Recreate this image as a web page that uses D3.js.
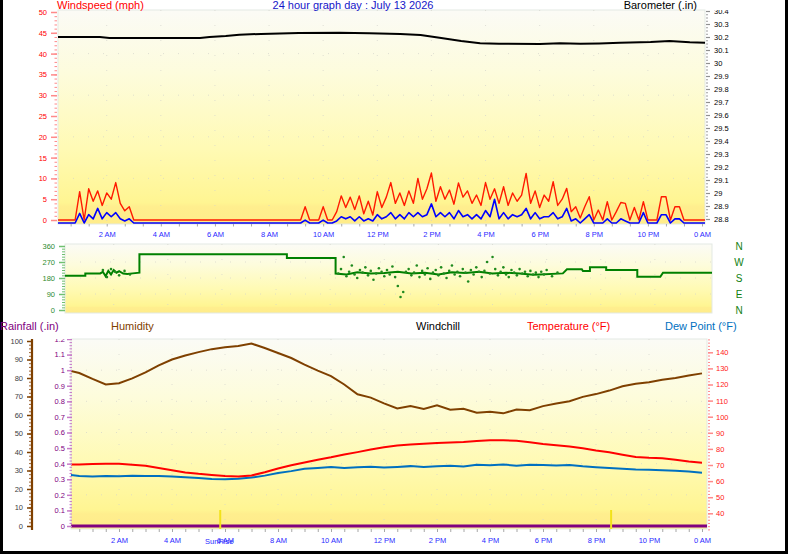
<!DOCTYPE html>
<html lang="en">
<head>
<meta charset="utf-8">
<title>24 hour graph day : July 13 2026</title>
<script src="https://cdn.jsdelivr.net/npm/d3@7"></script>
<style>
body { margin: 0; background: #fff; }
svg { display: block; }
</style>
</head>
<body>
<script>
// ---------------- data ----------------
// wind, one value every 10 minutes from 0:00 to 24:00 (mph)
var windGust = [
  0,0,0,0,0,0, 6.8,0, 7.5,4.5,7,3.5,6.5,5,9,4,2.2,3.2,
  0,0,0,0,0,0,0,0,0,0,0,0,0,0,0,0,0,0,0,0,0,0,0,0,0,0,0,0,0,0,0,0,0,0,0,0,0,0,
  3.2,0,0,0,3.2,0,0,
  2,5.8,3,5.5,2.5,5.8,1.5,4.5,1.2,6.8,3,5.5,9,4,6.5,3.5,7,4,10,5,7.5,11.3,4.5,8,
  5,7.2,3.8,8.9,5.5,7,4,6,3.5,9,5,7.5,4,8,3.5,6.5,4.5,6,11.2,4,7,3,6,
  4.5,9.2,3.5,5,7.6,2,3.2,0.5,3.2,5.6,0,2.4,0,4.4,0,2,4.2,4,0,3,0,4.4,0,0,0,5.6,5.6,0,3.2,3.2,
  0,0,0,0,0,0,0
];
var windAvg = [
  0,0,0,0,0,0, 2.3,0, 2,1,3.5,1,2.5,1.5,2.5,1,0.5,1,
  0,0,0,0,0,0,0,0,0,0,0,0,0,0,0,0,0,0,0,0,0,0,0,0,0,0,0,0,0,0,0,0,0,0,0,0,0,0,
  0.7,0,0,0,0.7,0,0,
  0.5,1.5,1,1.5,0.5,1.5,0.5,1,0.5,2,1,1.5,2.5,1,2,1,2.5,1.5,2.5,1.5,2,4.6,1.5,2.5,
  1.5,2.5,1,3,1.5,2,1,2,1,3,1.5,5.7,1,2.5,1,2,1.5,2,3.5,1,2.5,1,1.5,
  1.5,2.5,1,1.5,3.5,0.5,1,0,1,2,0,0,0,1,0,0,1,0.5,0,0,0,2.5,0,0,0,2,2,0,1,1,
  0,0,0,0,0,0,0
];

// barometer (inHg)
var baroHours  = [0, 1.75, 2.1, 5.45, 5.8, 6.4, 6.9, 7.7, 9.1, 10.6, 11.7, 12.85, 13.6, 14.3, 15.1, 15.8, 16.5, 18.0, 18.75, 19.5, 20.2, 20.97, 22.1, 22.8, 23.55, 24.2];
var baroValues = [30.20, 30.20, 30.193, 30.193, 30.20, 30.208, 30.218, 30.224, 30.23, 30.232, 30.228, 30.224, 30.215, 30.195, 30.17, 30.152, 30.148, 30.146, 30.152, 30.148, 30.15, 30.155, 30.162, 30.17, 30.16, 30.156];

// wind direction line (degrees)
var dirHours  = [0, 0.95, 0.95, 1.5, 1.6, 1.7, 1.8, 1.9, 2.0, 2.1, 2.2, 2.35, 2.5, 2.7, 2.95, 2.95, 8.4, 8.4, 10.2, 10.2, 10.6, 11.0, 11.5, 12, 12.5, 13, 13.5, 14, 14.5, 15, 15.5, 16, 16.5, 17, 17.5, 17.75, 18.6, 18.75, 19.3, 19.34, 19.6, 19.6, 20.2, 20.2, 21.35, 21.35, 22.2, 22.3, 24.2];
var dirValues = [193, 193, 206, 206, 215, 190, 220, 200, 225, 210, 218, 205, 202, 206, 210, 313, 313, 292, 292, 205, 200, 212, 205, 208, 215, 205, 210, 200, 212, 208, 215, 205, 210, 205, 198, 200, 206, 229, 229, 219, 219, 240, 240, 225, 225, 187, 187, 210, 210];

// scattered wind direction samples
var dirDotHours  = [1.6, 1.75, 1.9, 2.05, 2.2, 2.4, 2.6,
  10.3, 10.4, 10.5, 10.6, 10.7, 10.8, 10.9, 11.0, 11.1, 11.2, 11.3, 11.4, 11.5, 11.6, 11.7, 11.8, 11.9, 12.0, 12.1, 12.2, 12.3, 12.4, 12.5, 12.6, 12.7, 12.8, 12.9,
  13.0, 13.1, 13.2, 13.3, 13.4, 13.5, 13.6, 13.7, 13.8, 13.9, 14.0, 14.1, 14.2, 14.3, 14.4, 14.5, 14.6, 14.7, 14.8, 14.9, 15.0, 15.1, 15.2, 15.3, 15.4, 15.5,
  15.6, 15.7, 15.8, 15.9, 16.0, 16.1, 16.2, 16.3, 16.4, 16.5, 16.6, 16.7, 16.8, 16.9, 17.0, 17.1, 17.2, 17.3, 17.4, 17.5, 17.6, 17.7, 17.8, 17.9, 18.0, 18.2, 18.4];
var dirDotValues = [225, 185, 230, 215, 195, 220, 200,
  205, 230, 298, 190, 215, 250, 200, 180, 225, 210, 240, 195, 220, 170, 205, 235, 215, 190, 225, 200, 245, 185, 135, 73, 101, 215, 230,
  195, 210, 250, 185, 220, 200, 235, 175, 210, 225, 195, 240, 205, 180, 220, 250, 200, 215, 190, 230, 210, 160, 225, 200, 240, 215,
  185, 220, 270, 205, 298, 230, 195, 215, 240, 200, 185, 225, 210, 195, 230, 205, 215, 190, 220, 200, 210, 185, 215, 200, 225, 190, 210];

// half-hourly values from 0:00 to 24:00
var humidity = [84.5, 82.7, 79.5, 76.5, 77.2, 79.8, 83, 86.8, 90, 92.2, 94, 95.6, 96.6, 97.3, 98.6, 96.2, 93.5, 90.8, 87.2, 84, 81, 76.5, 71.2, 69.4, 66.3,
  63.5, 64.8, 63.2, 65.2, 62.8, 63.4, 61.2, 61.8, 60.9, 63, 62.6, 64.8, 66.2, 67.4, 69.8, 71.3, 73.2, 75.5, 76.9, 77.7, 79, 80, 81.3, 82.5];
var temperature = [70.2, 70.3, 70.6, 70.8, 70.8, 70.2, 69.6, 68.2, 66.8, 65.4, 64.5, 63.8, 63.1, 62.8, 63.5, 65.5, 67.8, 69.8, 71.5, 73.3, 74.8, 76.5, 78, 79.6, 81,
  82.1, 82.8, 83.2, 83.6, 84, 84.3, 84.9, 85.4, 85.3, 85, 84.2, 83.1, 82.3, 81.5, 80.4, 79, 77.9, 76.4, 75, 74.5, 74.2, 73.2, 72.2, 71.4];
var dewPoint = [64.2, 63.2, 62.8, 63.2, 63, 63.3, 63.1, 63.2, 62.9, 62.4, 62, 61.3, 61.1, 61.5, 62.2, 63.4, 65, 66.2, 67.6, 68.2, 68.8, 68.2, 68.6, 68.9, 68.4,
  68.8, 69.3, 68.7, 69.2, 69.6, 69.1, 70.2, 69.8, 70.3, 69.6, 70.1, 70, 69.7, 70, 69.2, 68.6, 68.1, 67.6, 67.2, 67, 66.8, 66.5, 65.9, 65.2];
var rainfall = [0, 0];
var rainHours = [0, 24.2];

var sunHours = [5.82, 20.57];
var sunLabels = ["SunRise", ""];

var windTicks = [0, 5, 10, 15, 20, 25, 30, 35, 40, 45, 50];
var baroTicks = [28.8, 28.9, 29, 29.1, 29.2, 29.3, 29.4, 29.5, 29.6, 29.7, 29.8, 29.9, 30, 30.1, 30.2, 30.3, 30.4];
var dirTicks = [0, 90, 180, 270, 360];
var compass = ["N", "W", "S", "E", "N"];
var humTicks = [0, 10, 20, 30, 40, 50, 60, 70, 80, 90, 100];
var rainTicks = [0, 0.1, 0.2, 0.3, 0.4, 0.5, 0.6, 0.7, 0.8, 0.9, 1, 1.1, 1.2];
var tempTicks = [40, 50, 60, 70, 80, 90, 100, 110, 120, 130, 140];

var FONT = '"Liberation Sans", Arial, sans-serif';

// ---------------- canvas ----------------
var svg = d3.select("body").append("svg").attr("width", 798).attr("height", 554)
  .attr("font-family", FONT);
var defs = svg.append("defs");

var grad = defs.append("linearGradient").attr("id", "bg")
  .attr("x1", 0).attr("y1", 0).attr("x2", 0).attr("y2", 1);
[[0, "#fbfbf6"], [0.3, "#fdfcdc"], [0.65, "#fffab4"], [0.9, "#fff592"], [0.92, "#ffee8e"], [1, "#ffec8a"]]
  .forEach(function(s) { grad.append("stop").attr("offset", s[0]).attr("stop-color", s[1]); });

function clip(id, x, y, w, h) {
  defs.append("clipPath").attr("id", id).append("rect")
    .attr("x", x).attr("y", y).attr("width", w).attr("height", h);
  return "url(#" + id + ")";
}

function hourLabel(h) {
  var hh = Math.round(h) % 24;
  var d = hh % 12;
  if (hh === 12) d = 12;
  return d + " " + (hh < 12 ? "AM" : "PM");
}
function isEven(v) { return Math.abs(v / 2 - Math.round(v / 2)) < 1e-6; }

function styleAxis(g, tickColor, textColor, size, width) {
  g.attr("font-family", FONT).attr("font-size", size);
  g.select(".domain").remove();
  g.selectAll(".tick line").attr("stroke", tickColor).attr("stroke-width", width);
  g.selectAll(".tick text").attr("fill", textColor);
}

function panelBg(x, y, w, h) {
  svg.append("rect").attr("x", x).attr("y", y).attr("width", w).attr("height", h)
    .attr("fill", "url(#bg)").attr("stroke", "#e3e9e3").attr("stroke-width", 1);
}

function grid(g, xs, ys, xScale, yScale, x0, x1, y0, y1) {
  g.selectAll(".gx").data(xs).enter().append("line")
    .attr("x1", function(d) { return xScale(d); }).attr("x2", function(d) { return xScale(d); })
    .attr("y1", y0).attr("y2", y1)
    .attr("stroke", "#d4d4cc").attr("stroke-dasharray", "1,14").attr("opacity", 0.7);
  g.selectAll(".gy").data(ys).enter().append("line")
    .attr("x1", x0).attr("x2", x1)
    .attr("y1", function(d) { return yScale(d); }).attr("y2", function(d) { return yScale(d); })
    .attr("stroke", "#d4d4cc").attr("stroke-dasharray", "1,14").attr("opacity", 0.7);
}

var gridHours = [2, 4, 6, 8, 10, 12, 14, 16, 18, 20, 22];

// frame
svg.append("rect").attr("x", 0).attr("y", 0).attr("width", 3).attr("height", 554).attr("fill", "#000");
svg.append("rect").attr("x", 785).attr("y", 0).attr("width", 3).attr("height", 554).attr("fill", "#000");
svg.append("rect").attr("x", 0).attr("y", 551).attr("width", 788).attr("height", 3).attr("fill", "#000");

//////////////////////////////////////////////////////////////
// TOP PANEL : wind + barometer
//////////////////////////////////////////////////////////////
var xTop = d3.scaleLinear().domain([0, 24]).range([52.6, 702]);
var yWind = d3.scaleLinear().domain([0, 50]).range([220, 12]);
var yWindAvg = d3.scaleLinear().domain([0, 50]).range([223, 15]);
var yBaro = d3.scaleLinear().domain([28.8, 30.4]).range([219, 11]);

panelBg(58, 10, 647, 214);
var topPlot = svg.append("g").attr("clip-path", clip("clipTop", 58, 10, 647, 214));
grid(topPlot, gridHours, [10, 20, 30, 40], xTop, yWind, 58, 705, 10, 224);

var windTimes = windGust.map(function(v, i) { return i / 6; });
var gustLine = d3.line().x(function(d, i) { return xTop(windTimes[i]); }).y(function(d) { return yWind(d); });
var avgLine = d3.line().x(function(d, i) { return xTop(windTimes[i]); }).y(function(d) { return yWindAvg(d); });

topPlot.append("path").datum(windGust).attr("d", gustLine)
  .attr("fill", "none").attr("stroke", "#ff1a00").attr("stroke-width", 1.4).attr("stroke-linejoin", "round");
topPlot.append("path").datum(windAvg).attr("d", avgLine)
  .attr("fill", "none").attr("stroke", "#0000ff").attr("stroke-width", 1.6).attr("stroke-linejoin", "round");

var baroLine = d3.line().x(function(d, i) { return xTop(baroHours[i]); }).y(function(d) { return yBaro(d); });
topPlot.append("path").datum(baroValues).attr("d", baroLine)
  .attr("fill", "none").attr("stroke", "#000").attr("stroke-width", 2);

var topAxes = svg.append("g").attr("clip-path", clip("clipTopAx", 0, 10, 798, 240));

var wMinor = topAxes.append("g").attr("transform", "translate(57,0)")
  .call(d3.axisLeft(yWind).tickValues(d3.range(0, 51, 1)).tickSize(2.5).tickFormat(""));
styleAxis(wMinor, "#ff8a8a", "#ff0000", 7, 1);
var wMajor = topAxes.append("g").attr("transform", "translate(57,0)")
  .call(d3.axisLeft(yWind).tickValues(windTicks).tickSize(6).tickPadding(4).tickFormat(d3.format("d")));
styleAxis(wMajor, "#ff8a8a", "#ff0000", 7.5, 1.5);

var bMinor = topAxes.append("g").attr("transform", "translate(706,0)")
  .call(d3.axisRight(yBaro).tickValues(d3.range(0, 65).map(function(i) { return 28.8 + i * 0.025; })).tickSize(2).tickFormat(""));
styleAxis(bMinor, "#a0a0a0", "#000", 7, 1);
var bMajor = topAxes.append("g").attr("transform", "translate(706,0)")
  .call(d3.axisRight(yBaro).tickValues(baroTicks).tickSize(4).tickPadding(4)
    .tickFormat(function(v) { return String(+v.toFixed(1)); }));
styleAxis(bMajor, "#909090", "#000", 7.5, 1.2);

var xTopAxis = topAxes.append("g").attr("transform", "translate(0,224)")
  .call(d3.axisBottom(xTop).tickValues(d3.range(1, 37).map(function(i) { return i * 2 / 3; }))
    .tickSize(2.5).tickPadding(5.5)
    .tickFormat(function(v) { return isEven(v) ? hourLabel(v) : ""; }));
styleAxis(xTopAxis, "#a8a8a8", "#2b2bff", 7.5, 1);

svg.append("text").attr("x", 57).attr("y", 9).attr("fill", "#ff0000").attr("font-size", 11).text("Windspeed (mph)");
svg.append("text").attr("x", 353).attr("y", 9).attr("text-anchor", "middle").attr("fill", "#1515c8").attr("font-size", 11)
  .text("24 hour graph day : July 13 2026");
svg.append("text").attr("x", 697).attr("y", 9).attr("text-anchor", "end").attr("fill", "#000").attr("font-size", 11)
  .text("Barometer (.in)");

//////////////////////////////////////////////////////////////
// MIDDLE PANEL : wind direction
//////////////////////////////////////////////////////////////
var xMid = d3.scaleLinear().domain([0, 24]).range([59.6, 709]);
var yDir = d3.scaleLinear().domain([0, 360]).range([310, 246]);

panelBg(65, 244, 647, 69);
var midPlot = svg.append("g").attr("clip-path", clip("clipMid", 65, 244, 647, 69));
grid(midPlot, gridHours, [90, 180, 270], xMid, yDir, 65, 712, 244, 313);

var dirLine = d3.line().x(function(d, i) { return xMid(dirHours[i]); }).y(function(d) { return yDir(d); });
midPlot.append("path").datum(dirValues).attr("d", dirLine)
  .attr("fill", "none").attr("stroke", "#008000").attr("stroke-width", 2);
midPlot.selectAll(".dot").data(dirDotValues).enter().append("circle")
  .attr("cx", function(d, i) { return xMid(dirDotHours[i]); })
  .attr("cy", function(d) { return yDir(d); })
  .attr("r", 1.3).attr("fill", "#1f8a1f");

var midAxes = svg.append("g").attr("clip-path", clip("clipMidAx", 0, 244, 798, 80));
var dMinor = midAxes.append("g").attr("transform", "translate(65,0)")
  .call(d3.axisLeft(yDir).tickValues(d3.range(0, 361, 15)).tickSize(3).tickFormat(""));
styleAxis(dMinor, "#70c070", "#2e8b2e", 7, 1);
var dMajor = midAxes.append("g").attr("transform", "translate(65,0)")
  .call(d3.axisLeft(yDir).tickValues(dirTicks).tickSize(6).tickPadding(4).tickFormat(d3.format("d")));
styleAxis(dMajor, "#70c070", "#2e8b2e", 7.5, 1.5);

svg.selectAll(".compass").data(compass).enter().append("text")
  .attr("x", 739).attr("y", function(d, i) { return yDir(dirTicks[4 - i]) + 4; })
  .attr("text-anchor", "middle").attr("fill", "#108010").attr("font-size", 10)
  .text(function(d) { return d; });

//////////////////////////////////////////////////////////////
// BOTTOM PANEL : temperature, dew point, humidity, rain
//////////////////////////////////////////////////////////////
var xBot = d3.scaleLinear().domain([0, 24]).range([66, 702]);
var yRain = d3.scaleLinear().domain([0, 1.2]).range([526, 339]);
var yHum = d3.scaleLinear().domain([0, 100]).range([526, 341]);
var yTemp = d3.scaleLinear().domain([30, 150]).range([529.4, 336.2]);

panelBg(71, 339, 636, 190);
var botPlot = svg.append("g").attr("clip-path", clip("clipBot", 71, 339, 636, 190));
grid(botPlot, gridHours, [0.2, 0.4, 0.6, 0.8, 1.0], xBot, yRain, 71, 707, 339, 529);

var halfHours = humidity.map(function(v, i) { return i / 2; });
function seriesLine(scale) {
  return d3.line().x(function(d, i) { return xBot(halfHours[i]); }).y(function(d) { return scale(d); });
}
botPlot.append("path").datum(humidity).attr("d", seriesLine(yHum))
  .attr("fill", "none").attr("stroke", "#7f4000").attr("stroke-width", 2);
botPlot.append("path").datum(dewPoint).attr("d", seriesLine(yTemp))
  .attr("fill", "none").attr("stroke", "#0070c0").attr("stroke-width", 2);
botPlot.append("path").datum(temperature).attr("d", seriesLine(yTemp))
  .attr("fill", "none").attr("stroke", "#ff0000").attr("stroke-width", 2);

var rainLine = d3.line().x(function(d, i) { return xBot(rainHours[i]); }).y(function(d) { return yRain(d); });
botPlot.append("path").datum(rainfall).attr("d", rainLine)
  .attr("fill", "none").attr("stroke", "#800080").attr("stroke-width", 3);

botPlot.selectAll(".sun").data(sunHours).enter().append("line")
  .attr("x1", function(d) { return xBot(d); }).attr("x2", function(d) { return xBot(d); })
  .attr("y1", 510).attr("y2", 529).attr("stroke", "#f2e21a").attr("stroke-width", 2);

var botAxes = svg.append("g").attr("clip-path", clip("clipBotAx", 0, 339, 798, 212));

// humidity axis
botAxes.append("line").attr("x1", 32).attr("x2", 32).attr("y1", 339).attr("y2", 530)
  .attr("stroke", "#7f4000").attr("stroke-width", 2.2);
var hMinor = botAxes.append("g").attr("transform", "translate(31,0)")
  .call(d3.axisLeft(yHum).tickValues(d3.range(0, 101, 2)).tickSize(2).tickFormat(""));
styleAxis(hMinor, "#9a6030", "#444", 7, 1);
var hMajor = botAxes.append("g").attr("transform", "translate(31,0)")
  .call(d3.axisLeft(yHum).tickValues(humTicks).tickSize(4).tickPadding(4).tickFormat(d3.format("d")));
styleAxis(hMajor, "#7f4000", "#404040", 7.5, 1.5);

// rainfall axis
var rMinor = botAxes.append("g").attr("transform", "translate(72,0)")
  .call(d3.axisLeft(yRain).tickValues(d3.range(0, 61).map(function(i) { return i * 0.02; })).tickSize(2.5).tickFormat(""));
styleAxis(rMinor, "#c77ac7", "#800080", 7, 1);
var rMajor = botAxes.append("g").attr("transform", "translate(72,0)")
  .call(d3.axisLeft(yRain).tickValues(rainTicks).tickSize(5).tickPadding(2)
    .tickFormat(function(v) { return String(+v.toFixed(1)); }));
styleAxis(rMajor, "#c77ac7", "#800080", 7.5, 1.5);

// temperature axis
var tMinor = botAxes.append("g").attr("transform", "translate(708,0)")
  .call(d3.axisRight(yTemp).tickValues(d3.range(30, 151, 2)).tickSize(2).tickFormat(""));
styleAxis(tMinor, "#ff8a8a", "#ff2020", 7, 1);
var tMajor = botAxes.append("g").attr("transform", "translate(708,0)")
  .call(d3.axisRight(yTemp).tickValues(tempTicks).tickSize(5).tickPadding(3).tickFormat(d3.format("d")));
styleAxis(tMajor, "#ff8a8a", "#ff2020", 7.5, 1.5);

// time axis
var xBotAxis = botAxes.append("g").attr("transform", "translate(0,529)")
  .call(d3.axisBottom(xBot).tickValues(d3.range(1, 49).map(function(i) { return i / 2; }))
    .tickSize(3).tickPadding(6)
    .tickFormat(function(v) { return isEven(v) ? hourLabel(v) : ""; }));
styleAxis(xBotAxis, "#a8a8a8", "#2b2bff", 7.5, 1);

botAxes.selectAll(".sunlab").data(sunHours).enter().append("text")
  .attr("x", function(d) { return xBot(d) - 1; }).attr("y", 543.5)
  .attr("text-anchor", "middle").attr("fill", "#2b2bff").attr("font-size", 7.5)
  .text(function(d, i) { return sunLabels[i]; });

// titles
svg.append("text").attr("x", 0).attr("y", 330).attr("fill", "#800080").attr("font-size", 11).text("Rainfall (.in)");
svg.append("text").attr("x", 111).attr("y", 330).attr("fill", "#7f4000").attr("font-size", 11).text("Humidity");
svg.append("text").attr("x", 416).attr("y", 330).attr("fill", "#000").attr("font-size", 11).text("Windchill");
svg.append("text").attr("x", 527).attr("y", 330).attr("fill", "#ff0000").attr("font-size", 11).text("Temperature (°F)");
svg.append("text").attr("x", 665).attr("y", 330).attr("fill", "#0070c0").attr("font-size", 11).text("Dew Point (°F)");
</script>
</body>
</html>
